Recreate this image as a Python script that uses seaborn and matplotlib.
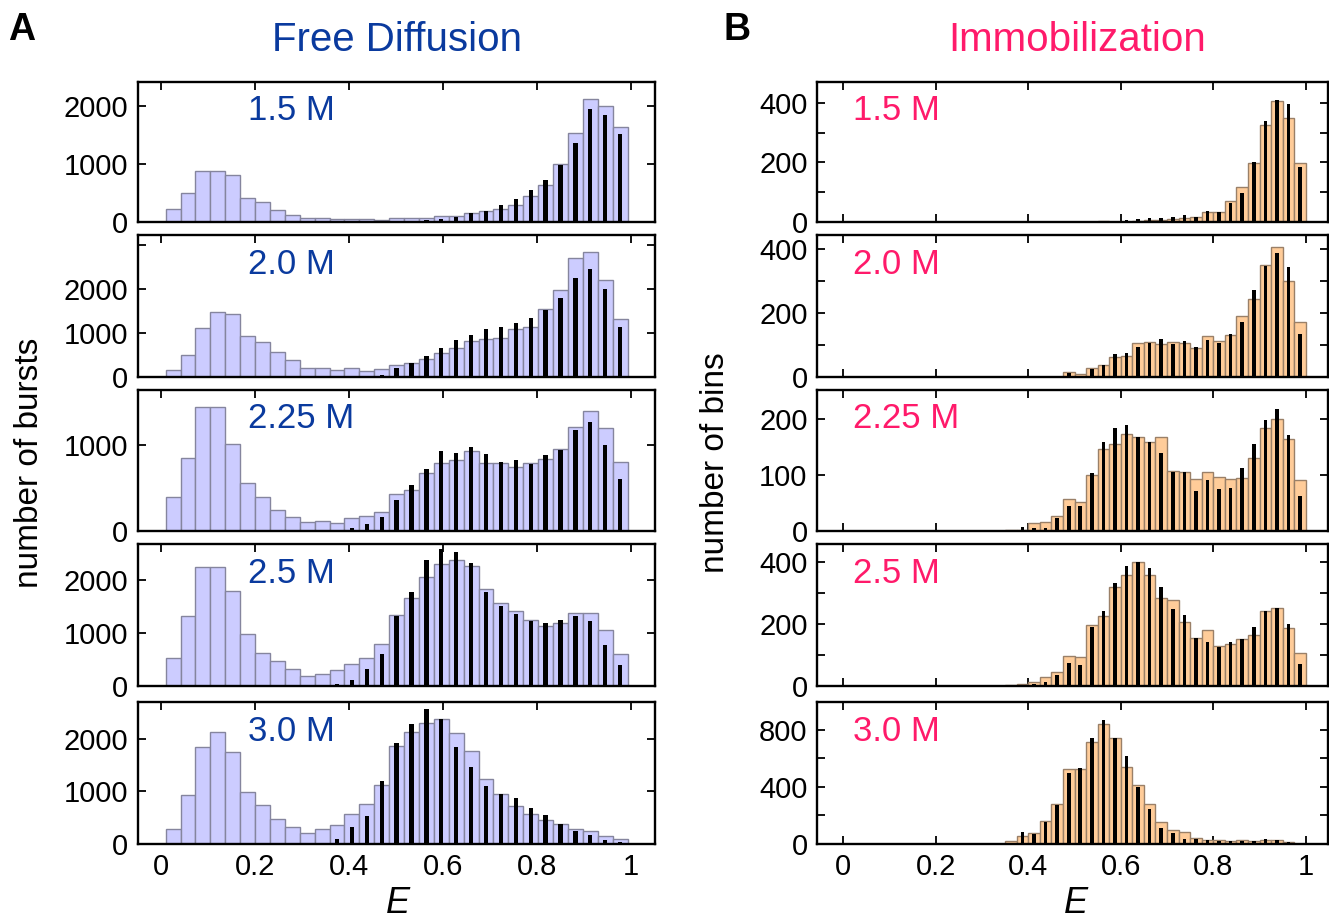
import numpy as np
import pandas as pd
import matplotlib
matplotlib.use("Agg")
import matplotlib.pyplot as plt
import seaborn as sns

# ---------------- data ----------------
conc_labels = ["1.5 M", "2.0 M", "2.25 M", "2.5 M", "3.0 M"]

# Free diffusion: 31 bins, width 0.0317 starting at 0.01
fd_start, fd_width, fd_nbins = 0.01, 0.0317, 31
fd_15 = [216, 496, 880, 886, 805, 420, 338, 198, 117, 70, 58, 52, 52, 47, 35, 58, 58, 70, 93, 99,
         152, 187, 222, 297, 443, 636, 1003, 1539, 2128, 2012, 1650]
fd_20 = [146, 492, 1115, 1462, 1438, 931, 792, 554, 385, 208, 208, 146, 192, 131, 177, 269, 308, 408,
         538, 654, 815, 869, 885, 1077, 1131, 1546, 1977, 2692, 2846, 2192, 1323]
fd_225 = [392, 851, 1439, 1439, 1016, 557, 392, 239, 165, 98, 114, 86, 145, 173, 220, 431, 475, 667,
          788, 827, 929, 784, 784, 737, 792, 831, 949, 1212, 1400, 1200, 800]
fd_25 = [532, 1314, 2256, 2244, 1795, 974, 622, 462, 314, 192, 224, 295, 417, 532, 788, 1346, 1660,
         2064, 2301, 2378, 2269, 1833, 1564, 1423, 1256, 1141, 1199, 1378, 1372, 1058, 603]
fd_30 = [286, 929, 1851, 2143, 1753, 994, 740, 474, 325, 201, 273, 351, 558, 766, 1117, 1870, 2135,
         2308, 2385, 2115, 1782, 1237, 949, 718, 564, 442, 372, 288, 244, 141, 77]

fd_15_k = [0] * 17 + [29, 47, 87, 152, 192, 297, 397, 554, 723, 980, 1364, 1953, 1848, 1516]
fd_20_k = [0] * 13 + [23, 46, 192, 308, 462, 662, 831, 938, 1092, 1123, 1223, 1346, 1515, 1785,
                      2246, 2446, 1992, 1138]
fd_225_k = [0] * 12 + [35, 75, 161, 353, 537, 722, 929, 910, 980, 898, 796, 824, 780, 878, 937,
                       1176, 1263, 1000, 604]
fd_25_k = [0] * 10 + [13, 38, 115, 308, 609, 1327, 1788, 2385, 2590, 2545, 2333, 1776, 1506, 1359,
                      1231, 1199, 1244, 1327, 1231, 782, 397]
fd_30_k = [0] * 10 + [13, 84, 325, 519, 1201, 1935, 2295, 2577, 2385, 1859, 1474, 1109, 949, 878,
                      686, 545, 372, 237, 154, 64, 26]

# Immobilization: 40 bins of width 0.025 from 0 to 1
im_start, im_width, im_nbins = 0.0, 0.025, 40
im_15 = [0] * 22 + [3, 0, 0, 2, 7, 6, 9, 14, 16, 34, 34, 71, 118, 197, 325, 408, 349, 197]
im_20 = [0] * 19 + [14, 7, 28, 37, 61, 65, 105, 110, 103, 110, 105, 91, 127, 112, 132, 190, 243,
                    351, 406, 302, 171]
im_225 = [0] * 14 + [2, 2, 13, 16, 26, 56, 51, 99, 147, 156, 173, 167, 158, 168, 107, 106, 92, 106,
                     96, 92, 94, 130, 184, 200, 164, 91]
im_25 = [0] * 14 + [2, 6, 11, 28, 45, 97, 92, 197, 226, 319, 359, 402, 359, 283, 276, 205, 156, 181,
                    130, 134, 150, 164, 243, 253, 186, 105]
im_30 = [0] * 14 + [19, 52, 71, 158, 275, 525, 525, 713, 840, 741, 536, 412, 278, 153, 94, 82, 40,
                    28, 24, 19, 28, 19, 28, 24, 12, 0]

im_15_k = [0] * 24 + [7, 10, 14, 11, 17, 23, 17, 36, 34, 64, 96, 201, 338, 411, 397, 183]
im_20_k = [0] * 18 + [3, 13, 3, 24, 37, 70, 75, 92, 107, 119, 104, 112, 92, 115, 105, 134, 171, 271,
                      348, 387, 343, 135]
im_225_k = [0] * 13 + [2, 0, 6, 4, 4, 22, 44, 44, 104, 159, 184, 189, 167, 159, 140, 105, 106, 72, 90,
                       75, 77, 113, 155, 198, 218, 171, 62]
im_25_k = [0] * 15 + [2, 5, 11, 35, 72, 67, 189, 243, 334, 389, 402, 380, 321, 249, 228, 153, 143,
                      126, 143, 151, 189, 243, 253, 200, 69]
im_30_k = [0] * 15 + [78, 64, 153, 271, 494, 529, 741, 868, 741, 612, 395, 242, 106, 71, 35, 35, 24,
                      19, 19, 19, 19, 31, 24, 12, 0]

fd_light = [fd_15, fd_20, fd_225, fd_25, fd_30]
fd_black = [fd_15_k, fd_20_k, fd_225_k, fd_25_k, fd_30_k]
im_light = [im_15, im_20, im_225, im_25, im_30]
im_black = [im_15_k, im_20_k, im_225_k, im_25_k, im_30_k]

fd_ylim = [2430, 3225, 1640, 2690, 2717]
im_ylim = [472, 445, 252, 459, 993]
fd_yticks = [([0, 1000, 2000], []), ([0, 1000, 2000], [3000]), ([0, 1000], []),
             ([0, 1000, 2000], []), ([0, 1000, 2000], [])]
im_yticks = [([0, 200, 400], [100, 300]), ([0, 200, 400], [100, 300]), ([0, 100, 200], []),
             ([0, 200, 400], [100, 300]), ([0, 400, 800], [200, 600])]
x_ticks = [0, 0.2, 0.4, 0.6, 0.8, 1.0]
x_ticklabels = ["0", "0.2", "0.4", "0.6", "0.8", "1"]

# ---------------- style ----------------
sns.set_style("ticks")
plt.rcParams["font.family"] = ["Liberation Sans", "DejaVu Sans"]
plt.rcParams["text.color"] = "black"
plt.rcParams["axes.labelcolor"] = "black"

blue_fill, blue_edge = "#ccccff", "#85859e"
orange_fill, orange_edge = "#ffcc99", "#9a8068"
blue_text, pink_text = "#0a3a9e", "#ff1a6a"

W, H = 1329, 921
fig = plt.figure(figsize=(W / 100, H / 100), dpi=100)

rows = [(81.7, 221.7), (235, 376.7), (390, 530.7), (544, 685.7), (702, 843.5)]
cols = [(137.5, 654.5), (817.3, 1328.0)]
xlims = [(-0.05, 1.05), (-0.056, 1.048)]


def make_df(start, width, n, vals, kvals):
    centers = start + width * (np.arange(n) + 0.5)
    return (start, start + n * width), pd.DataFrame({"E": centers, "count": vals, "black": kvals})


for c, (x0, x1) in enumerate(cols):
    for r, (top, bot) in enumerate(rows):
        ax = fig.add_axes([x0 / W, 1 - bot / H, (x1 - x0) / W, (bot - top) / H])
        if c == 0:
            brange, df = make_df(fd_start, fd_width, fd_nbins, fd_light[r], fd_black[r])
            nb = fd_nbins
            fill, edge, shrink = blue_fill, blue_edge, 0.29
            ylim, (maj, mnr) = fd_ylim[r], fd_yticks[r]
            tcol = blue_text
            tx = 0.214
        else:
            brange, df = make_df(im_start, im_width, im_nbins, im_light[r], im_black[r])
            nb = im_nbins
            fill, edge, shrink = orange_fill, orange_edge, 0.31
            ylim, (maj, mnr) = im_ylim[r], im_yticks[r]
            tcol = pink_text
            tx = 0.07
        sns.histplot(data=df, x="E", weights="count", bins=nb, binrange=brange, ax=ax,
                     color=fill, edgecolor=edge, linewidth=1.0, alpha=1, zorder=2)
        sns.histplot(data=df, x="E", weights="black", bins=nb, binrange=brange, ax=ax,
                     color="black", edgecolor="black", linewidth=0, alpha=1,
                     shrink=shrink, zorder=3)
        ax.set_xlim(*xlims[c])
        ax.set_ylim(0, ylim)
        ax.set_xlabel("")
        ax.set_ylabel("")
        ax.set_axisbelow(True)
        ax.set_xticks(x_ticks)
        ax.set_xticklabels(x_ticklabels if r == 4 else [""] * 6)
        ax.set_yticks(maj)
        ax.set_yticklabels([str(v) for v in maj])
        ax.set_yticks(mnr, minor=True)
        ax.xaxis.set_minor_locator(matplotlib.ticker.NullLocator())
        for side in ["top", "right", "bottom", "left"]:
            ax.spines[side].set_visible(True)
            ax.spines[side].set_linewidth(1.7)
            ax.spines[side].set_color("black")
        ax.tick_params(which="both", direction="in", length=6, width=1.3, top=True,
                       right=True, bottom=(c == 1), left=True, labelsize=21, pad=7,
                       colors="black")
        ax.text(tx, 0.795, conc_labels[r], transform=ax.transAxes, color=tcol,
                fontsize=25, ha="left", va="center")

fig.text(22 / W, 1 - 30 / H, "A", fontsize=27, fontweight="bold", color="black",
         ha="center", va="center")
fig.text(737 / W, 1 - 30 / H, "B", fontsize=27, fontweight="bold", color="black",
         ha="center", va="center")
fig.text(397 / W, 1 - 40 / H, "Free Diffusion", fontsize=29, color=blue_text,
         ha="center", va="center")
fig.text(1077 / W, 1 - 40 / H, "Immobilization", fontsize=29, color=pink_text,
         ha="center", va="center")
fig.text(30 / W, 1 - 463 / H, "number of bursts", fontsize=24, rotation=90, color="black",
         ha="center", va="center")
fig.text(716 / W, 1 - 463 / H, "number of bins", fontsize=24, rotation=90, color="black",
         ha="center", va="center")
fig.text(398 / W, 1 - 903 / H, "E", fontsize=26, style="italic", color="black",
         ha="center", va="center")
fig.text(1076 / W, 1 - 903 / H, "E", fontsize=26, style="italic", color="black",
         ha="center", va="center")

fig.savefig("out.png", dpi=100)
